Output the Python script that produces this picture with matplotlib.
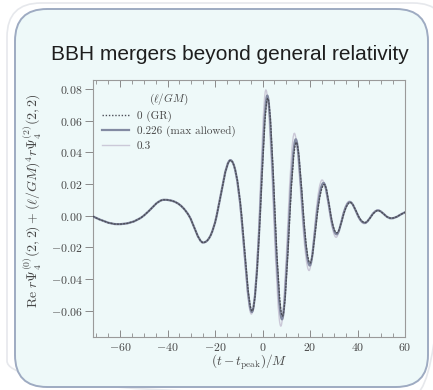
import numpy as np
import matplotlib
matplotlib.use("Agg")
import matplotlib.pyplot as plt
from matplotlib.path import Path
from matplotlib.patches import PathPatch, FancyBboxPatch
from matplotlib.lines import Line2D
from matplotlib.ticker import MultipleLocator, FuncFormatter

plt.rcParams.update({"font.family": "serif", "font.serif": ["cmr10"],
                     "mathtext.fontset": "cm", "axes.formatter.use_mathtext": True,
                     "font.size": 8.5})

# waveform readings: extrema, zero crossings and end points, (t - t_peak)/M
t_gr = [-71.4, -61.0, -50.0, -41.5, -31.0, -25.0, -19.3, -13.5, -8.8, -4.4, -1.0, 2.2,
        5.3, 8.4, 11.5, 14.2, 17.3, 20.0, 23.0, 26.0, 28.8, 31.3, 34.0, 36.9, 40.3,
        43.1, 46.0, 48.6, 51.8, 54.2, 57.4, 60.0]
y_gr = [-0.0005, -0.0054, 0.0, 0.0100, 0.0, -0.0170, 0.0, 0.0349, 0.0, -0.0603, 0.0, 0.0741,
        0.0, -0.0635, 0.0, 0.0463, 0.0, -0.0300, 0.0, 0.0197, 0.0, -0.0109, 0.0, 0.0083, 0.0,
        -0.0044, 0.0, 0.0032, 0.0, -0.0016, 0.0, 0.0021]

t_226 = [-71.4, -61.0, -50.0, -41.5, -31.0, -25.0, -19.3, -13.5, -8.9, -4.5, -1.1, 2.0,
         5.1, 8.2, 11.3, 14.0, 17.1, 19.9, 22.8, 25.7, 28.7, 31.2, 33.9, 36.8, 40.2,
         43.1, 45.9, 48.6, 51.8, 54.2, 57.4, 60.0]
y_226 = [-0.0005, -0.0054, 0.0, 0.0100, 0.0, -0.0170, 0.0, 0.0350, 0.0, -0.0609, 0.0, 0.0758,
         0.0, -0.0655, 0.0, 0.0482, 0.0, -0.0315, 0.0, 0.0206, 0.0, -0.0118, 0.0, 0.0086, 0.0,
         -0.0046, 0.0, 0.0033, 0.0, -0.0017, 0.0, 0.0021]

t_03 = [-71.4, -61.0, -50.0, -41.5, -31.0, -25.1, -19.5, -13.7, -9.1, -4.7, -1.4, 1.4,
        4.7, 7.7, 10.8, 13.4, 16.7, 19.6, 22.4, 25.1, 28.4, 31.0, 33.7, 36.6, 40.0,
        42.9, 45.8, 48.5, 51.7, 54.2, 57.3, 60.0]
y_03 = [-0.0005, -0.0054, 0.0, 0.0101, 0.0, -0.0172, 0.0, 0.0352, 0.0, -0.0622, 0.0, 0.0794,
        0.0, -0.0698, 0.0, 0.0520, 0.0, -0.0347, 0.0, 0.0225, 0.0, -0.0137, 0.0, 0.0091, 0.0,
        -0.0051, 0.0, 0.0035, 0.0, -0.0018, 0.0, 0.0021]

labels = ["0 (GR)", "0.226 (max allowed)", "0.3"]


def smooth_path(t, y):
    # cubic bezier through the read points, flat at the extrema
    t = np.asarray(t, float); y = np.asarray(y, float); n = len(t)
    m = np.zeros(n)
    for i in range(n):
        if i == 0:
            m[i] = 1.5 * (y[1] - y[0]) / (t[1] - t[0])
        elif i == n - 1:
            m[i] = (y[-1] - y[-2]) / (t[-1] - t[-2])
        elif (y[i] - y[i-1]) * (y[i+1] - y[i]) <= 0:
            m[i] = 0.0
        else:
            m[i] = 1.5 * (y[i+1] - y[i-1]) / (t[i+1] - t[i-1])
    verts = [(t[0], y[0])]; codes = [Path.MOVETO]
    for i in range(n - 1):
        h = t[i+1] - t[i]
        verts += [(t[i] + h/3, y[i] + m[i]*h/3), (t[i+1] - h/3, y[i+1] - m[i+1]*h/3), (t[i+1], y[i+1])]
        codes += [Path.CURVE4] * 3
    return Path(verts, codes)


W, H = 433, 390
fig = plt.figure(figsize=(W/100, H/100), dpi=100, facecolor="white")

# slide background box
bg = fig.add_axes([0, 0, 1, 1]); bg.set_xlim(0, W); bg.set_ylim(H, 0); bg.axis("off")
bg.add_patch(FancyBboxPatch((7, 3), 440, 392, boxstyle="round,pad=0,rounding_size=34",
                            fc="none", ec="#e6e8ec", lw=1.2))
bg.add_patch(FancyBboxPatch((15, 9), 413, 378, boxstyle="round,pad=0,rounding_size=32",
                            fc="#eef9f9", ec="#9eabc2", lw=1.4))
bg.text(230, 55, "BBH mergers beyond general relativity", ha="center", va="center",
        fontsize=15, family="Liberation Sans", color="#1e1e1e")

ax = fig.add_axes([93/W, 1-337/H, (405-93)/W, (337-80)/H])
ax.set_facecolor("none")
styles = [dict(ec="#4c4e58", lw=1.0, ls=(0, (1, 1.3)), zorder=4),
          dict(ec="#838aa2", lw=1.6, ls="-", zorder=3),
          dict(ec="#cbc9d8", lw=1.0, ls="-", zorder=2)]
for (tt, yy), st in zip([(t_gr, y_gr), (t_226, y_226), (t_03, y_03)], styles):
    ax.add_patch(PathPatch(smooth_path(tt, yy), fc="none", capstyle="round", **st))

ax.set_xlim(-71.4, 60)
ax.set_ylim(-0.0767, 0.0857)
ax.xaxis.set_major_locator(MultipleLocator(20))
ax.xaxis.set_minor_locator(MultipleLocator(5))
ax.yaxis.set_major_locator(MultipleLocator(0.02))
ax.yaxis.set_major_formatter(FuncFormatter(lambda v, p: "$%.2f$" % (0.0 if abs(v) < 1e-9 else v)))
ax.tick_params(axis="x", which="both", direction="in", top=True, colors="#8a8a8a",
               labelcolor="#474747", pad=3)
ax.tick_params(axis="x", which="major", length=5, width=0.7)
ax.tick_params(axis="x", which="minor", length=3, width=0.6)
ax.tick_params(axis="y", which="major", direction="out", length=6, width=0.7,
               colors="#8a8a8a", labelcolor="#474747", pad=1.5)
for s in ax.spines.values():
    s.set_color("#9a9a9a"); s.set_linewidth(0.8)

ax.set_xlabel(r"$(t - t_{\rm peak})/M$", fontsize=9.5, color="#474747", labelpad=0)
ax.set_ylabel(r"${\rm Re}\ r\Psi_4^{(0)}(2,2) + (\ell/GM)^4 r\Psi_4^{(2)}(2,2)$",
              fontsize=10, color="#474747")
ax.yaxis.set_label_coords(-0.158, 0.53)

handles = [Line2D([], [], color=st["ec"], lw=st["lw"], ls=st["ls"]) for st in styles]
leg = ax.legend(handles, labels, title=r"$(\ell/GM)$", loc="upper left",
                bbox_to_anchor=(0.005, 0.985), frameon=False, fontsize=8,
                title_fontsize=8, handlelength=2.4, labelspacing=0.35, borderpad=0.2,
                handletextpad=0.7)
for txt in leg.get_texts():
    txt.set_color("#474747")
leg.get_title().set_color("#474747")

fig.savefig("out.png", dpi=100, facecolor="white")
